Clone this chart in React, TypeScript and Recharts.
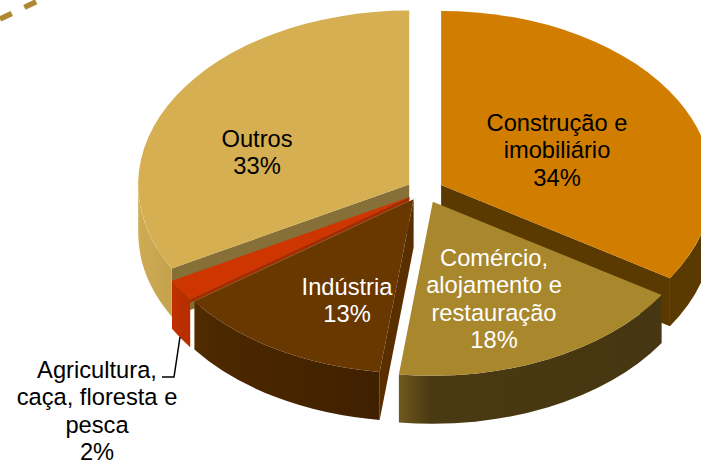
import { Pie, PieChart } from "recharts"

// order starts at Outros so the slices paint back to front
const categories = [
  "Outros",
  "Construção e imobiliário",
  "Comércio, alojamento e restauração",
  "Indústria",
  "Agricultura, caça, floresta e pesca",
]
const values = [33, 34, 18, 13, 2]
const labelLines = [
  ["Outros"],
  ["Construção e", "imobiliário"],
  ["Comércio,", "alojamento e", "restauração"],
  ["Indústria"],
  ["Agricultura,", "caça, floresta e", "pesca"],
]

const data = categories.map((name, i) => ({ name, value: values[i] }))

const WIDTH = 701
const HEIGHT = 461
const CX = 425
const CY = 190.6
const RADIUS = 271
const TILT = 0.642
const DEPTH = 48
const EXPLODE = 18.4
const START_CLOCK = 241.2

const topColors = ["#D5AF52", "#D17D00", "#A9872C", "#693700", "#CF3500"]
const faceColors = ["#877038", "#5A3A00", "#4A3A10", "#5A2F00", "#A82A00"]
const wallStops = [
  ["#D2AE55", "#CDAA52", "#C4A24E"],
  ["#5A3A00", "#5A3A00", "#5A3A00"],
  ["#70591F", "#4A3A12", "#463611"],
  ["#532C00", "#4C2800", "#3F2000"],
  ["#BE3000", "#BE3000", "#B52D00"],
]
const faceDepths = [DEPTH, DEPTH, DEPTH, DEPTH, 3.5]
const nudgeX = [0, 0, 0, -2, 0]
const nudgeY = [0, 0, 0.5, -1.5, 0]
const labelX = [257, 557, 494, 347, 97]
const labelY = [147, 131, 266, 295, 378]
const labelFill = ["#000", "#000", "#fff", "#fff", "#000"]

const point = (x: number, y: number, clock: number) => {
  const r = (clock * Math.PI) / 180
  return [x + RADIUS * Math.sin(r), y - RADIUS * TILT * Math.cos(r)]
}

const arc = (x: number, y: number, from: number, to: number, dy = 0) => {
  const [ex, ey] = point(x, y, to)
  const sweep = to > from ? 1 : 0
  const large = Math.abs(to - from) > 180 ? 1 : 0
  return `A${RADIUS} ${RADIUS * TILT} 0 ${large} ${sweep} ${ex} ${ey + dy}`
}

function Slice3D(props: any) {
  const { cx, cy, startAngle, endAngle, index } = props
  let a = (((90 - startAngle) % 360) + 360) % 360
  if (a > 359.99) a -= 360
  const b = a + Math.abs(endAngle - startAngle)
  const mid = ((a + b) / 2) * (Math.PI / 180)
  const x = cx + EXPLODE * Math.sin(mid) + nudgeX[index]
  const y = cy - EXPLODE * TILT * Math.cos(mid) + nudgeY[index]

  const [ax, ay] = point(x, y, a)
  const [bx, by] = point(x, y, b)
  const rad = (d: number) => (d * Math.PI) / 180
  const gradId = `wall-${index}`
  const parts: any[] = []

  // cut faces that look towards the viewer
  const fd = faceDepths[index]
  if (Math.sin(rad(a)) < -0.001) {
    parts.push(
      <path key="fa" fill={faceColors[index]} d={`M${x} ${y}L${ax} ${ay}L${ax} ${ay + fd}L${x} ${y + fd}Z`} />,
    )
  }
  if (Math.sin(rad(b)) > 0.001) {
    parts.push(
      <path key="fb" fill={faceColors[index]} d={`M${x} ${y}L${bx} ${by}L${bx} ${by + fd}L${x} ${y + fd}Z`} />,
    )
  }

  // outer wall, front half only
  const w0 = Math.max(a, 90)
  const w1 = Math.min(b, 270)
  if (w1 > w0) {
    const [p0x, p0y] = point(x, y, w0)
    const [p1x, p1y] = point(x, y, w1)
    parts.push(
      <path
        key="wall"
        fill={`url(#${gradId})`}
        d={`M${p0x} ${p0y}${arc(x, y, w0, w1)}L${p1x} ${p1y + DEPTH}${arc(x, y, w1, w0, DEPTH)}Z`}
      />,
    )
  }

  return (
    <g>
      <defs>
        {/* wall gradients run left to right on screen */}
        <linearGradient id={gradId} x1="0" y1="0" x2="1" y2="0">
          <stop offset="0" stopColor={wallStops[index][0]} />
          <stop offset="0.12" stopColor={wallStops[index][1]} />
          <stop offset="1" stopColor={wallStops[index][2]} />
        </linearGradient>
      </defs>
      {parts}
      <path fill={topColors[index]} d={`M${x} ${y}L${ax} ${ay}${arc(x, y, a, b)}Z`} />
    </g>
  )
}

function SliceLabel(props: any) {
  const { index } = props
  const lines = [...labelLines[index], `${values[index]}%`]
  return (
    <g>
      {index === 4 && <path d="M180 337L174 377L162 377" fill="none" stroke="#000" strokeWidth={1.5} />}
      <text
        textAnchor="middle"
        fill={labelFill[index]}
        fontFamily="Liberation Sans"
        fontSize={23.7}
      >
        {lines.map((t, i) => (
          <tspan key={t} x={labelX[index]} y={labelY[index] + i * 27.4}>
            {t}
          </tspan>
        ))}
      </text>
    </g>
  )
}

export default function App() {
  return (
    <div style={{ position: "absolute", left: 0, top: 0, width: WIDTH, height: HEIGHT, overflow: "hidden" }}>
      <PieChart width={WIDTH} height={HEIGHT} margin={{ top: 0, right: 0, bottom: 0, left: 0 }}>
        <line
          x1={0}
          y1={19}
          x2={42}
          y2={-1}
          stroke="#AF8832"
          strokeWidth={5.5}
          strokeDasharray="13 14"
        />
        <Pie
          data={data}
          dataKey="value"
          nameKey="name"
          cx={CX}
          cy={CY}
          outerRadius={RADIUS}
          startAngle={90 - START_CLOCK}
          endAngle={90 - START_CLOCK - 360}
          stroke="none"
          shape={Slice3D}
          label={SliceLabel}
          labelLine={false}
          isAnimationActive={false}
        />
      </PieChart>
    </div>
  )
}
